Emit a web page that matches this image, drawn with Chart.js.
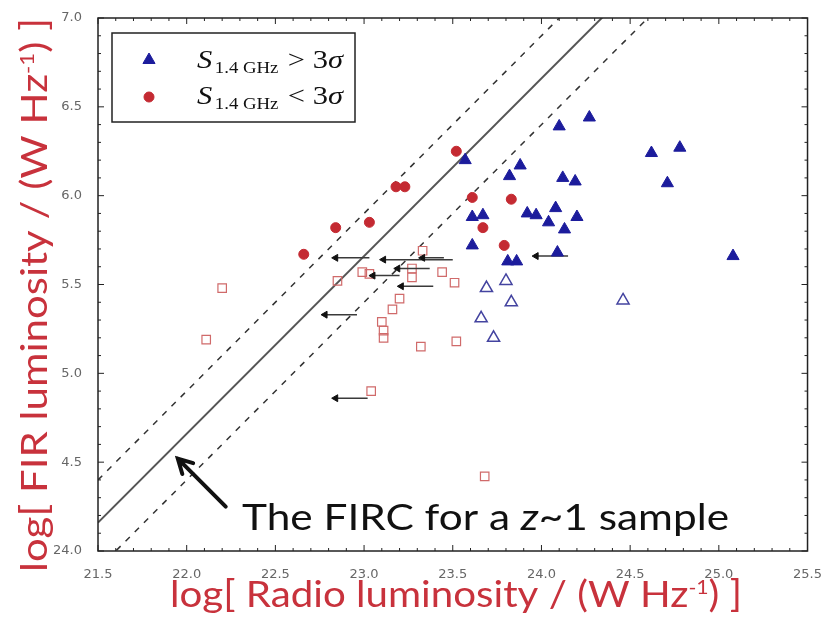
<!DOCTYPE html>
<html>
<head>
<meta charset="utf-8">
<script src="https://cdn.jsdelivr.net/npm/chart.js@4.4.1/dist/chart.umd.min.js"></script>
<style>
  html, body { margin: 0; padding: 0; background: #fff; }
  #wrap { width: 830px; height: 626px; }
</style>
</head>
<body>
<div id="wrap"><canvas id="firc"></canvas></div>
<script>
// S_1.4GHz > 3 sigma (filled blue triangles)
const detX = [23.57, 24.10, 24.27, 23.88, 23.82, 24.12, 24.19, 23.61, 23.67, 23.92, 23.97, 24.04,
              24.08, 24.20, 24.13, 23.61, 23.81, 23.86, 24.09, 24.62, 24.78, 24.71, 25.08]
const detY = [6.20, 6.39, 6.44, 6.17, 6.11, 6.10, 6.08, 5.88, 5.89, 5.90, 5.89, 5.85,
              5.93, 5.88, 5.81, 5.72, 5.63, 5.63, 5.68, 6.24, 6.27, 6.07, 5.66]
// open blue triangles
const detOpenX = [23.80, 23.69, 23.83, 24.46, 23.66, 23.73]
const detOpenY = [5.52, 5.48, 5.40, 5.41, 5.31, 5.20]
// S_1.4GHz < 3 sigma (filled red circles)
const undetX = [22.66, 22.84, 23.03, 23.18, 23.23, 23.52, 23.61, 23.83, 23.67, 23.79]
const undetY = [5.67, 5.82, 5.85, 6.05, 6.05, 6.25, 5.99, 5.98, 5.82, 5.72]
// open red squares
const undetOpenX = [22.11, 22.20, 22.85, 22.99, 23.03, 23.04, 23.10, 23.11, 23.11, 23.16,
                    23.20, 23.27, 23.27, 23.33, 23.32, 23.44, 23.51, 23.52, 23.68]
const undetOpenY = [5.19, 5.48, 5.52, 5.57, 5.56, 4.90, 5.29, 5.24, 5.20, 5.36,
                    5.42, 5.59, 5.54, 5.69, 5.15, 5.57, 5.51, 5.18, 4.42]
// upper limits on radio luminosity (arrows)
const limitY    = [5.65, 5.64, 5.65, 5.59, 5.55, 5.49, 5.33, 4.86, 5.66]
const limitHead = [22.84, 23.11, 23.33, 23.19, 23.05, 23.21, 22.78, 22.84, 23.97]
const limitTail = [23.03, 23.50, 23.45, 23.37, 23.20, 23.39, 22.96, 23.02, 24.15]
// FIRC relation and its scatter, end points
const fircX   = [21.5, 25.5]
const fircMid = [4.16, 8.16]
const fircHi  = [4.40, 8.40]
const fircLo  = [3.90, 7.90]
const xTicks = [21.5, 22.0, 22.5, 23.0, 23.5, 24.0, 24.5, 25.0, 25.5]
const yTicks = [4.0, 4.5, 5.0, 5.5, 6.0, 6.5, 7.0]
const noteArrow = [[22.22, 4.25], [21.95, 4.52]]

const BLUE = '#1c1c9c'
const RED = '#c42a32'
const TITLE_RED = '#c8323c'

const pts = (xs, ys) => xs.map((x, i) => ({ x: x, y: ys[i] }))
const line = (ys) => fircX.map((x, i) => ({ x: x, y: ys[i] }))

const arrowLines = limitY.map((y, i) => ({
  type: 'line',
  data: [{ x: limitHead[i], y: y }, { x: limitTail[i], y: y }],
  borderColor: '#3a3a3a',
  borderWidth: 1.5,
  pointRadius: 0,
  order: 4
}))

// draws text parts [text, font, dy] squeezed/stretched to a given width
function drawFitted(ctx, parts, left, base, width) {
  let w = 0
  parts.forEach(p => { ctx.font = p[1]; w += ctx.measureText(p[0]).width })
  ctx.save()
  ctx.translate(left, base)
  ctx.scale(width / w, 1)
  let px = 0
  parts.forEach(p => {
    ctx.font = p[1]
    ctx.fillText(p[0], px, p[2])
    px += ctx.measureText(p[0]).width
  })
  ctx.restore()
}

const framePlugin = {
  id: 'frame',
  afterDraw(chart) {
    const ctx = chart.ctx
    const a = chart.chartArea
    const xs = chart.scales.x
    const ys = chart.scales.y
    ctx.save()
    // inward ticks
    ctx.strokeStyle = '#222'
    ctx.lineWidth = 1
    ctx.beginPath()
    for (let k = 0; k <= 40; k++) {
      const px = xs.getPixelForValue(21.5 + k * 0.1)
      const len = k % 5 === 0 ? 6 : 3
      ctx.moveTo(px, a.bottom); ctx.lineTo(px, a.bottom - len)
      ctx.moveTo(px, a.top); ctx.lineTo(px, a.top + len)
    }
    for (let k = 0; k <= 30; k++) {
      const py = ys.getPixelForValue(4 + k * 0.1)
      const len = k % 5 === 0 ? 6 : 3
      ctx.moveTo(a.left, py); ctx.lineTo(a.left + len, py)
      ctx.moveTo(a.right, py); ctx.lineTo(a.right - len, py)
    }
    ctx.stroke()
    ctx.lineWidth = 1.5
    ctx.strokeRect(a.left, a.top, a.right - a.left, a.bottom - a.top)

    // legend
    ctx.fillStyle = '#fff'
    ctx.fillRect(112, 33, 243, 89)
    ctx.strokeStyle = '#222'
    ctx.strokeRect(112, 33, 243, 89)
    const legendRows = [
      { style: 'triangle', color: BLUE, sign: '>', y: 68, my: 60, r: 7 },
      { style: 'circle', color: RED, sign: '<', y: 104, my: 97, r: 5 }
    ]
    ctx.textBaseline = 'alphabetic'
    ctx.textAlign = 'left'
    legendRows.forEach(row => {
      ctx.fillStyle = row.color
      ctx.strokeStyle = row.color
      ctx.lineWidth = 1
      Chart.helpers.drawPoint(ctx, { pointStyle: row.style, radius: row.r, borderWidth: 1 }, 149, row.my)
      ctx.fillStyle = '#111'
      drawFitted(ctx, [
        ['S', 'italic 26px "Liberation Serif"', 0],
        ['\u200A', '26px "Liberation Serif"', 0],
        ['1.4 GHz', '16px "Liberation Serif"', 5],
        ['  ', '16px "Liberation Serif"', 0],
        [row.sign, '26px "Liberation Serif"', 0],
        [' 3', '26px "Liberation Serif"', 0],
        ['σ', 'italic 26px "Liberation Serif"', 0]
      ], 197, row.y, 146)
    })

    // annotation arrow and note
    const x0 = xs.getPixelForValue(noteArrow[0][0]), y0 = ys.getPixelForValue(noteArrow[0][1])
    const x1 = xs.getPixelForValue(noteArrow[1][0]), y1 = ys.getPixelForValue(noteArrow[1][1])
    const ang = Math.atan2(y1 - y0, x1 - x0)
    ctx.strokeStyle = '#111'
    ctx.lineWidth = 4
    ctx.lineCap = 'round'
    ctx.beginPath()
    ctx.moveTo(x0, y0); ctx.lineTo(x1, y1)
    ctx.moveTo(x1 + 16 * Math.cos(ang + Math.PI - 0.5), y1 + 16 * Math.sin(ang + Math.PI - 0.5))
    ctx.lineTo(x1, y1)
    ctx.lineTo(x1 + 16 * Math.cos(ang + Math.PI + 0.5), y1 + 16 * Math.sin(ang + Math.PI + 0.5))
    ctx.stroke()

    ctx.fillStyle = '#111'
    drawFitted(ctx, [
      ['The FIRC for a ', '37px Lato', 0],
      ['z', 'italic 37px Lato', 0],
      ['~1 sample', '37px Lato', 0]
    ], 242, 530, 487)

    // axis titles with superscripts
    ctx.fillStyle = TITLE_RED
    drawFitted(ctx, [
      ['log[ Radio luminosity / (W Hz', '36px Lato', 0],
      ['-1', '19px Lato', -13],
      [') ]', '36px Lato', 0]
    ], 170, 607, 572)
    ctx.translate(47, 0)
    ctx.rotate(-Math.PI / 2)
    drawFitted(ctx, [
      ['log[ FIR luminosity / (W Hz', '36px Lato', 0],
      ['-1', '19px Lato', -13],
      [') ]', '36px Lato', 0]
    ], -572, 0, 554)
    ctx.restore()
  }
}

new Chart(document.getElementById('firc'), {
  type: 'scatter',
  data: {
    datasets: [
      { data: pts(detX, detY), pointStyle: 'triangle', pointRadius: 7, backgroundColor: BLUE,
        borderColor: BLUE, borderWidth: 1, order: 1 },
      { data: pts(undetX, undetY), pointStyle: 'circle', pointRadius: 5, backgroundColor: RED,
        borderColor: RED, borderWidth: 1, order: 2 },
      { data: pts(limitHead, limitY), pointStyle: 'triangle', rotation: 270, pointRadius: 4,
        backgroundColor: '#111', borderColor: '#111', borderWidth: 1, order: 3 },
      ...arrowLines,
      { data: pts(detOpenX, detOpenY), pointStyle: 'triangle', pointRadius: 7,
        backgroundColor: 'rgba(255,255,255,0)', borderColor: '#4444a0', borderWidth: 1.5, order: 5 },
      { data: pts(undetOpenX, undetOpenY), pointStyle: 'rect', pointRadius: 6,
        backgroundColor: 'rgba(255,255,255,0)', borderColor: '#d06a6a', borderWidth: 1.2, order: 5 },
      { type: 'line', data: line(fircMid), borderColor: '#555', borderWidth: 2, pointRadius: 0, order: 9 },
      { type: 'line', data: line(fircHi), borderColor: '#333', borderWidth: 1.5, borderDash: [6, 7],
        pointRadius: 0, order: 9 },
      { type: 'line', data: line(fircLo), borderColor: '#333', borderWidth: 1.5, borderDash: [6, 7],
        pointRadius: 0, order: 9 }
    ]
  },
  options: {
    responsive: true,
    maintainAspectRatio: false,
    animation: false,
    layout: { padding: { top: 18, right: 22, left: 0, bottom: 0 } },
    plugins: { legend: { display: false }, tooltip: { enabled: false } },
    scales: {
      x: {
        type: 'linear', min: 21.5, max: 25.5,
        afterBuildTicks: s => { s.ticks = xTicks.map(v => ({ value: v })) },
        afterFit: s => { s.height = 75 },
        grid: { display: false },
        border: { display: false },
        ticks: { color: '#666', padding: 8, font: { family: 'DejaVu Sans', size: 13 },
          callback: v => v.toFixed(1) }
      },
      y: {
        type: 'linear', min: 4, max: 7,
        afterBuildTicks: s => { s.ticks = yTicks.map(v => ({ value: v })) },
        afterFit: s => { s.width = 98 },
        grid: { display: false },
        border: { display: false },
        ticks: { color: '#666', padding: 8, font: { family: 'DejaVu Sans', size: 13 },
          callback: v => v === 4 ? '24.0' : v.toFixed(1) }
      }
    }
  },
  plugins: [framePlugin]
})
</script>
</body>
</html>
